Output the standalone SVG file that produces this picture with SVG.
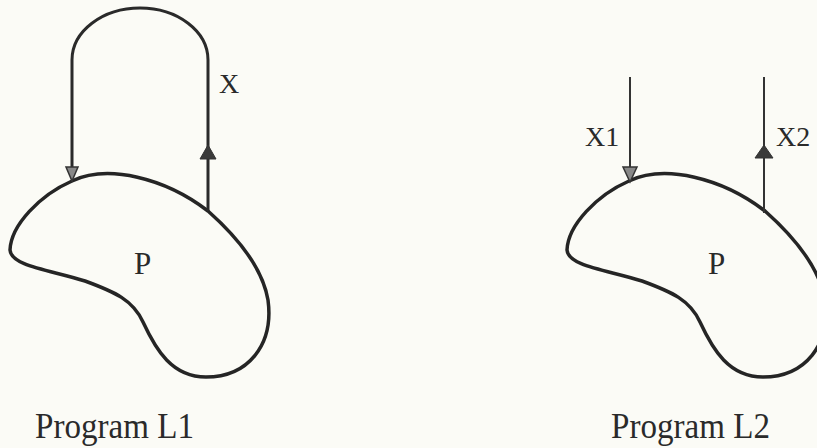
<svg xmlns="http://www.w3.org/2000/svg" width="817" height="448" viewBox="0 0 817 448">
<style>
.t{font-family:"Liberation Serif","Times New Roman",serif;fill:#2a2a2a}
.blob{fill:none;stroke:#252525;stroke-width:3.5;stroke-linejoin:round}
.ln{fill:none;stroke:#333;stroke-width:2}
.arc{fill:none;stroke:#2a2a2a;stroke-width:3}
.hd{fill:#3a3a3a;stroke:#333;stroke-width:1}
.hdo{fill:#888;stroke:#333;stroke-width:1.5}
</style>
<defs>
<path id="blobShape" d="M72,181 C108,164 165,178 208,211 C235,235 262,265 268,300 C274,345 248,377 206,377 C172,377 156,350 143,322 C133,300 115,292 85,281 C50,270 11,266 10,250 C11,225 40,195 72,181 Z"/>
</defs>
<rect x="0" y="0" width="817" height="448" fill="#fbfbf6"/>
<g id="nodeL1">
<use href="#blobShape" class="blob"/>
<text class="t" x="134" y="274" font-size="31">P</text>
<text class="t" x="35" y="438" font-size="36" textLength="159" lengthAdjust="spacingAndGlyphs">Program L1</text>
</g>
<g id="nodeL2">
<use href="#blobShape" class="blob" transform="translate(557,0)"/>
<text class="t" x="708" y="274" font-size="31">P</text>
<text class="t" x="611" y="438" font-size="36" textLength="159" lengthAdjust="spacingAndGlyphs">Program L2</text>
</g>
<g id="connectors">
<path class="arc" d="M72,170 L72,60 A68,52 0 0 1 208,60 L208,211"/>
<polygon class="hdo" points="66,167 78,167 72,181"/>
<polygon class="hd" points="200,159 216,159 208,145"/>
<text class="t" x="219" y="93" font-size="28">X</text>
<line class="ln" x1="630" y1="77" x2="630" y2="170"/>
<polygon class="hdo" points="623,167 637,167 630,182"/>
<text class="t" x="585" y="146" font-size="28">X1</text>
<line class="ln" x1="764" y1="77" x2="764" y2="213"/>
<polygon class="hd" points="755,158 773,158 764,145"/>
<text class="t" x="776" y="146" font-size="28">X2</text>
</g>
</svg>
